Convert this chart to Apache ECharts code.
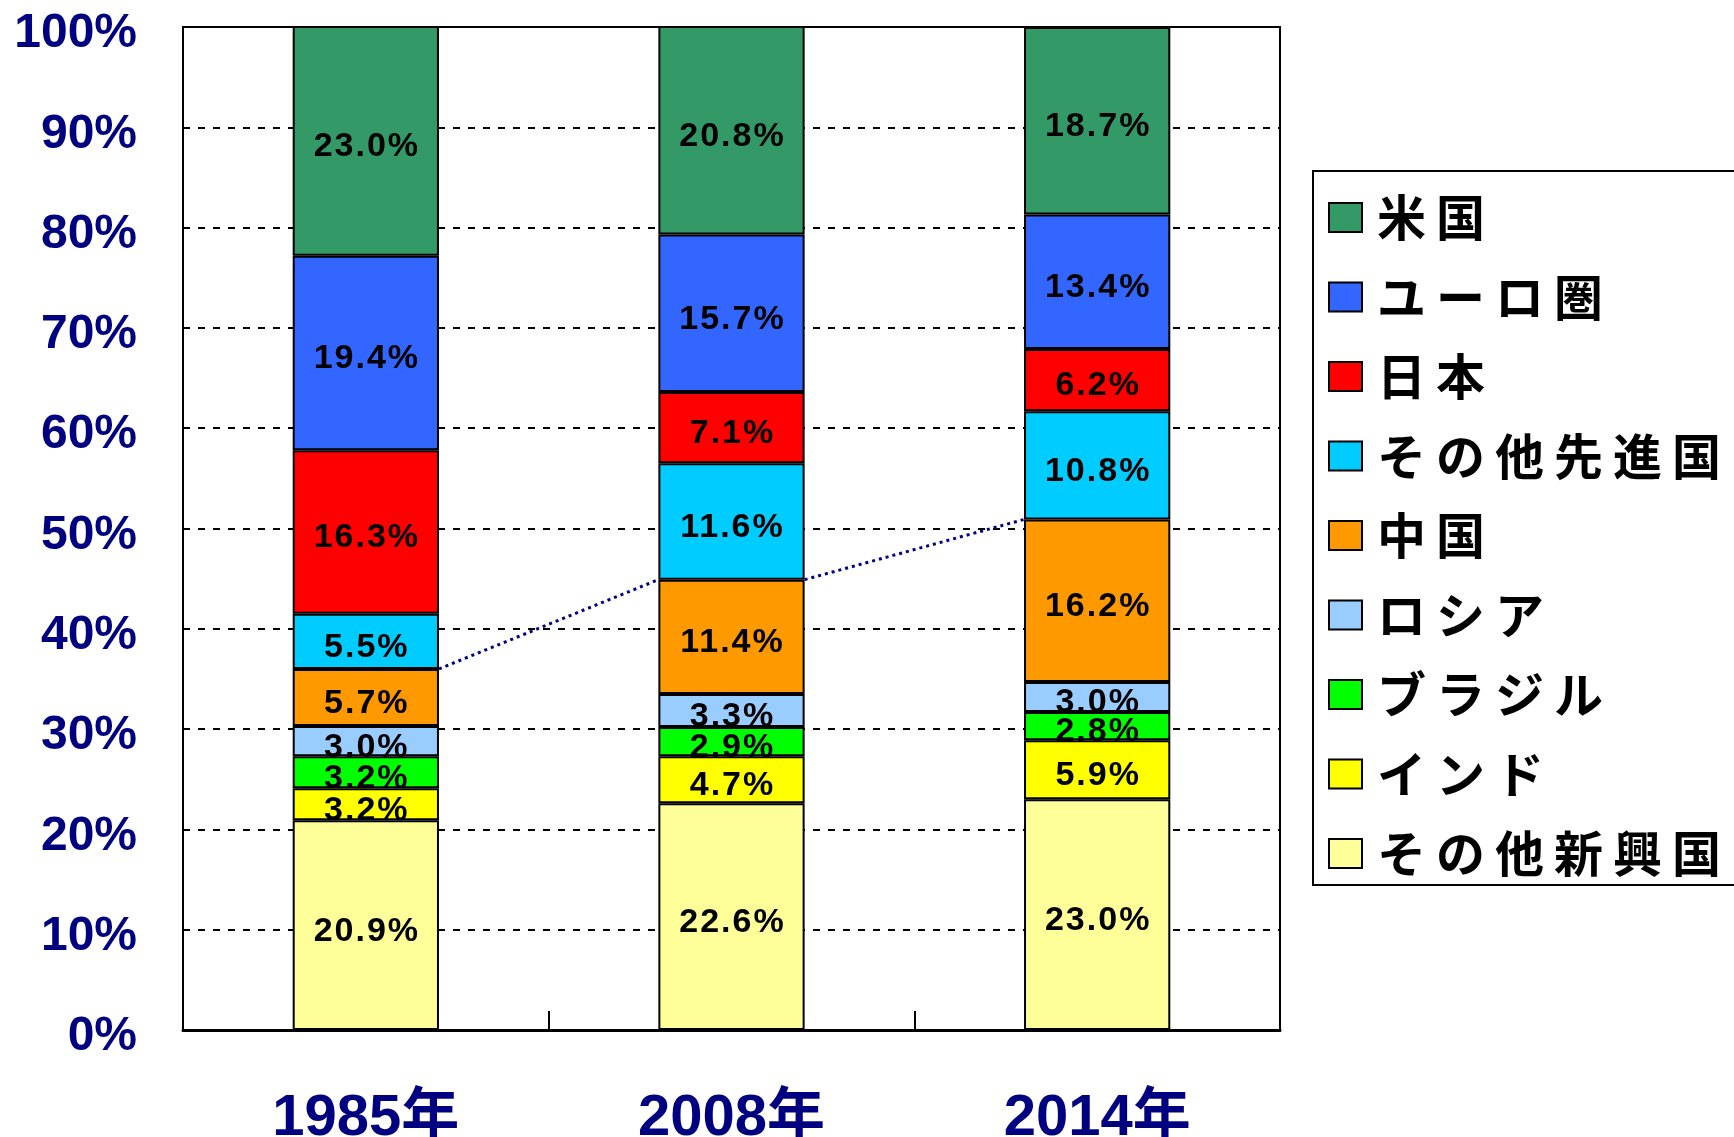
<!DOCTYPE html>
<html><head><meta charset="utf-8">
<script src="https://cdn.jsdelivr.net/npm/echarts@6/dist/echarts.min.js"></script>
<style>html,body{margin:0;padding:0;background:#fff}#c{width:1734px;height:1137px}</style>
</head><body><div id="c"></div>
<script>
const categories = ['1985年', '2008年', '2014年'];
const yTicks = [0, 10, 20, 30, 40, 50, 60, 70, 80, 90, 100];
// stacked bottom -> top
const otherEmerging = [20.9, 22.6, 23.0];
const india = [3.2, 4.7, 5.9];
const brazil = [3.2, 2.9, 2.8];
const russia = [3.0, 3.3, 3.0];
const china = [5.7, 11.4, 16.2];
const otherAdvanced = [5.5, 11.6, 10.8];
const japan = [16.3, 7.1, 6.2];
const euro = [19.4, 15.7, 13.4];
const usa = [23.0, 20.8, 18.7];

const seriesDefs = [
  {name: 'その他新興国', data: otherEmerging, color: '#FFFF99'},
  {name: 'インド', data: india, color: '#FFFF00'},
  {name: 'ブラジル', data: brazil, color: '#00FF00'},
  {name: 'ロシア', data: russia, color: '#99CCFF'},
  {name: '中国', data: china, color: '#FF9900'},
  {name: 'その他先進国', data: otherAdvanced, color: '#00CCFF'},
  {name: '日本', data: japan, color: '#FF0000'},
  {name: 'ユーロ圏', data: euro, color: '#3366FF'},
  {name: '米国', data: usa, color: '#339966'}
];

// cumulative share of emerging economies (bottom five series)
const emergingTotal = categories.map((c, i) =>
  otherEmerging[i] + india[i] + brazil[i] + russia[i] + china[i]);
const linkData = [];
for (let i = 0; i < categories.length - 1; i++) {
  linkData.push([i, emergingTotal[i], i + 1, emergingTotal[i + 1]]);
}

// wider character spacing for legend / data label text (as in the original)
(function () {
  const proto = CanvasRenderingContext2D.prototype;
  const orig = proto.fillText;
  proto.fillText = function (t, x, y, m) {
    let sp = null;
    if (this.font.indexOf('49px') >= 0) sp = '10px';
    else if (this.font.indexOf('34px') >= 0) sp = '2px';
    if (sp && 'letterSpacing' in this) {
      const prev = this.letterSpacing;
      this.letterSpacing = sp;
      const r = m === undefined ? orig.call(this, t, x, y) : orig.call(this, t, x, y, m);
      this.letterSpacing = prev;
      return r;
    }
    return m === undefined ? orig.call(this, t, x, y) : orig.call(this, t, x, y, m);
  };
})();

const NUMFONT = '"Liberation Sans", "Noto Sans CJK JP", sans-serif';
const JPFONT = '"Noto Sans CJK JP", sans-serif';
const BAR_RATIO = 0.4;

const series = seriesDefs.map(s => ({
  name: s.name,
  type: 'bar',
  stack: 'total',
  barWidth: (BAR_RATIO * 100) + '%',
  data: s.data,
  itemStyle: {color: s.color, borderColor: '#000', borderWidth: 2},
  label: {
    show: true, position: 'inside', color: '#000', offset: [1, 6],
    fontFamily: NUMFONT, fontWeight: 'bold', fontSize: 34,
    formatter: p => p.value.toFixed(1) + '%'
  },
  z: 3
}));

series.push({
  type: 'custom',
  name: 'link',
  data: linkData,
  z: 5,
  silent: true,
  renderItem: function (params, api) {
    const p0 = api.coord([api.value(0), api.value(1)]);
    const p1 = api.coord([api.value(2), api.value(3)]);
    const half = api.size([1, 0])[0] * BAR_RATIO / 2;
    return {
      type: 'line',
      shape: {x1: p0[0] + half, y1: p0[1], x2: p1[0] - half, y2: p1[1]},
      style: {stroke: '#000080', lineWidth: 3, lineDash: [3, 4]}
    };
  }
});

const chart = echarts.init(document.getElementById('c'), null, {renderer: 'canvas'});
chart.setOption({
  animation: false,
  backgroundColor: '#fff',
  grid: {left: 183, top: 27, right: 454, bottom: 107, containLabel: false, outerBoundsMode: 'none',
    show: true, borderColor: '#000', borderWidth: 2, backgroundColor: 'transparent'},
  xAxis: {
    type: 'category',
    data: categories,
    axisLine: {lineStyle: {color: '#000', width: 3}},
    axisTick: {show: true, inside: true, length: 19, lineStyle: {color: '#000', width: 2}},
    axisLabel: {color: '#000080', fontFamily: NUMFONT, fontWeight: 'bold', fontSize: 58, margin: 60},
    splitLine: {show: false}
  },
  yAxis: {
    type: 'value',
    min: yTicks[0], max: yTicks[yTicks.length - 1], interval: 10,
    axisLine: {show: true, lineStyle: {color: '#000', width: 2}},
    axisTick: {show: false},
    axisLabel: {color: '#000080', fontFamily: NUMFONT, fontWeight: 'bold', fontSize: 48, margin: 46,
      verticalAlign: 'top', lineHeight: 14,
      formatter: v => v + '%'},
    splitLine: {show: true, lineStyle: {color: '#000', width: 2, type: [7, 8]}}
  },
  graphic: [{
    type: 'rect', z: 1,
    shape: {x: 1313, y: 171, width: 500, height: 714},
    style: {fill: '#fff', stroke: '#000', lineWidth: 2}
  }],
  legend: {
    z: 10,
    orient: 'vertical',
    left: 1323, top: 188,
    itemWidth: 33, itemHeight: 29, itemGap: 30.5,
    data: seriesDefs.slice().reverse().map(s => s.name),
    icon: 'rect',
    itemStyle: {borderColor: '#000', borderWidth: 2},
    textStyle: {color: '#000', fontFamily: JPFONT, fontWeight: 'bold', fontSize: 49, padding: [0, 0, 0, 10]}
  },
  series: series
});
</script></body></html>
